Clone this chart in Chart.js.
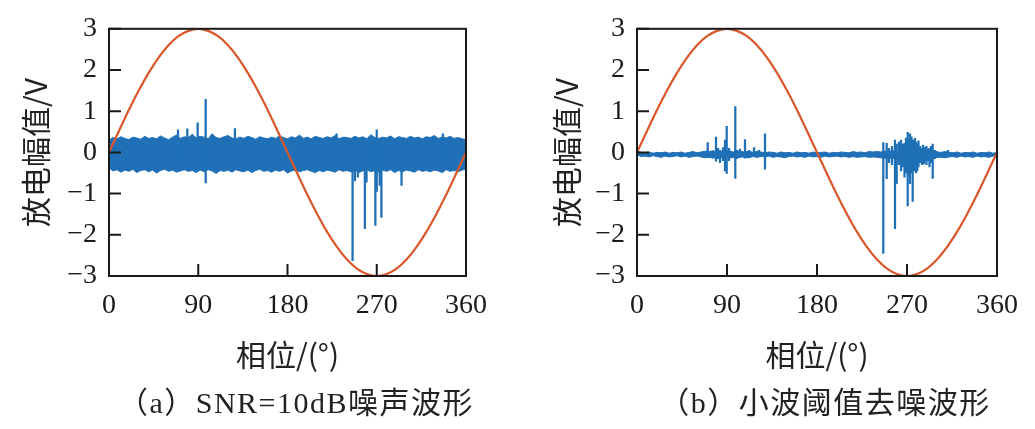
<!DOCTYPE html>
<html>
<head>
<meta charset="utf-8">
<script src="https://cdn.jsdelivr.net/npm/chart.js@4"></script>
<style>
  html, body { margin: 0; padding: 0; background: #fff; }
  #wrap { position: relative; width: 1035px; height: 429px; overflow: hidden; }
  canvas { position: absolute; top: 0; }
  #cv-a { left: 0; }
  #cv-b { left: 518px; }
  .caption {
    position: absolute; top: 378px; width: 460px; text-align: center;
    font: 30px "Liberation Serif", "Noto Sans CJK SC", serif; color: #222;
    letter-spacing: 1.5px; white-space: nowrap;
  }
</style>
</head>
<body>
<div id="wrap">
  <canvas id="cv-a" width="518" height="380"></canvas>
  <canvas id="cv-b" width="517" height="380"></canvas>
  <div class="caption" style="left:66px">（a）SNR=10dB噪声波形</div>
  <div class="caption" style="left:595px">（b）小波阈值去噪波形</div>
</div>
<script>
// ── data ──

const X_TICKS = [0, 90, 180, 270, 360];
const Y_TICKS = [-3, -2, -1, 0, 1, 2, 3];

// reference sine, 10° steps
const SINE_PHASE = [0, 10, 20, 30, 40, 50, 60, 70, 80, 90, 100, 110, 120, 130, 140, 150, 160, 170, 180,
  190, 200, 210, 220, 230, 240, 250, 260, 270, 280, 290, 300, 310, 320, 330, 340, 350, 360];
const SINE = [0, 0.52, 1.03, 1.5, 1.93, 2.3, 2.6, 2.82, 2.95, 3, 2.95, 2.82, 2.6, 2.3, 1.93, 1.5, 1.03, 0.52, 0,
  -0.52, -1.03, -1.5, -1.93, -2.3, -2.6, -2.82, -2.95, -3, -2.95, -2.82, -2.6, -2.3, -1.93, -1.5, -1.03, -0.52, 0];

// noise band envelopes, 4° steps
const PHASE = [0, 4, 8, 12, 16, 20, 24, 28, 32, 36, 40, 44, 48, 52, 56, 60, 64, 68, 72, 76,
  80, 84, 88, 92, 96, 100, 104, 108, 112, 116, 120, 124, 128, 132, 136, 140, 144, 148, 152, 156,
  160, 164, 168, 172, 176, 180, 184, 188, 192, 196, 200, 204, 208, 212, 216, 220, 224, 228, 232, 236,
  240, 244, 248, 252, 256, 260, 264, 268, 272, 276, 280, 284, 288, 292, 296, 300, 304, 308, 312, 316,
  320, 324, 328, 332, 336, 340, 344, 348, 352, 356, 360];

const UPPER_A = [0.30, 0.36, 0.33, 0.38, 0.34, 0.31, 0.37, 0.35, 0.32, 0.39,
  0.34, 0.36, 0.33, 0.40, 0.35, 0.31, 0.37, 0.42, 0.34, 0.38,
  0.36, 0.44, 0.35, 0.39, 0.37, 0.33, 0.45, 0.36, 0.34, 0.38,
  0.41, 0.35, 0.33, 0.37, 0.34, 0.39, 0.36, 0.32, 0.38, 0.35,
  0.33, 0.37, 0.34, 0.40, 0.36, 0.33, 0.38, 0.35, 0.42, 0.34,
  0.37, 0.33, 0.39, 0.36, 0.34, 0.38, 0.35, 0.41, 0.33, 0.37,
  0.36, 0.34, 0.39, 0.35, 0.38, 0.33, 0.43, 0.36, 0.34, 0.37,
  0.35, 0.40, 0.33, 0.38, 0.36, 0.34, 0.39, 0.35, 0.37, 0.33,
  0.38, 0.36, 0.41, 0.34, 0.37, 0.35, 0.39, 0.34, 0.36, 0.33, 0.31];
const LOWER_A = [-0.38, -0.45, -0.42, -0.48, -0.43, -0.46, -0.41, -0.49, -0.44, -0.42,
  -0.47, -0.43, -0.50, -0.44, -0.41, -0.46, -0.43, -0.48, -0.45, -0.42,
  -0.46, -0.44, -0.49, -0.43, -0.47, -0.42, -0.45, -0.51, -0.44, -0.46,
  -0.43, -0.48, -0.42, -0.45, -0.47, -0.43, -0.49, -0.44, -0.41, -0.46,
  -0.44, -0.48, -0.43, -0.46, -0.42, -0.50, -0.45, -0.43, -0.47, -0.44,
  -0.42, -0.46, -0.49, -0.44, -0.47, -0.43, -0.45, -0.48, -0.42, -0.46,
  -0.44, -0.47, -0.43, -0.49, -0.45, -0.42, -0.47, -0.44, -0.48, -0.43,
  -0.46, -0.42, -0.49, -0.44, -0.47, -0.43, -0.45, -0.48, -0.42, -0.46,
  -0.44, -0.47, -0.43, -0.45, -0.49, -0.42, -0.46, -0.44, -0.47, -0.43, -0.40];

const UPPER_B = [0.03, 0.00, -0.01, 0.01, -0.02, 0.00, -0.01, 0.01, -0.02, 0.00,
  -0.01, 0.01, -0.02, 0.00, 0.02, -0.01, 0.01, 0.03, 0.02, 0.04,
  0.01, 0.03, 0.02, 0.04, 0.01, 0.03, 0.02, 0.01, 0.03, 0.00,
  0.02, 0.01, -0.01, 0.01, 0.00, -0.02, 0.01, -0.01, 0.00, -0.02,
  0.01, -0.01, 0.00, -0.02, 0.01, -0.01, 0.00, 0.01, -0.02, 0.00,
  -0.01, 0.01, 0.00, -0.01, 0.02, 0.00, 0.01, -0.01, 0.02, 0.01,
  0.02, 0.01, 0.03, 0.02, 0.04, 0.03, 0.04, 0.05, 0.04, 0.05,
  0.04, 0.03, 0.04, 0.02, 0.03, 0.01, 0.00, 0.02, 0.00, -0.01,
  0.01, -0.02, 0.00, -0.01, 0.01, -0.02, 0.00, -0.01, 0.01, -0.02, 0.00];
const LOWER_B = [-0.06, -0.10, -0.09, -0.11, -0.08, -0.10, -0.12, -0.09, -0.11, -0.10,
  -0.08, -0.11, -0.09, -0.12, -0.10, -0.09, -0.11, -0.13, -0.12, -0.14,
  -0.11, -0.13, -0.12, -0.14, -0.12, -0.13, -0.11, -0.12, -0.13, -0.10,
  -0.12, -0.10, -0.11, -0.09, -0.12, -0.10, -0.11, -0.13, -0.10, -0.09,
  -0.11, -0.10, -0.12, -0.09, -0.11, -0.10, -0.12, -0.09, -0.11, -0.10,
  -0.09, -0.11, -0.10, -0.12, -0.10, -0.12, -0.11, -0.10, -0.12, -0.11,
  -0.12, -0.13, -0.14, -0.13, -0.15, -0.14, -0.16, -0.15, -0.16, -0.15,
  -0.16, -0.14, -0.15, -0.13, -0.14, -0.12, -0.12, -0.13, -0.11, -0.10,
  -0.12, -0.09, -0.11, -0.10, -0.12, -0.09, -0.11, -0.10, -0.12, -0.09, -0.07];

// discharge pulses: phase, min, max
const SPIKE_A_X = [69.6, 79, 89.4, 97.5, 127, 229.5, 245.6, 248, 251, 258, 259.7, 268.6, 270, 273, 274.7, 295, 336.7];
const SPIKE_A_LO = [-0.3, -0.3, -0.3, -0.74, -0.3, -0.3, -2.63, -0.69, -0.6, -1.85, -0.72, -1.77, -0.95, -0.8, -1.58, -0.8, -0.3];
const SPIKE_A_HI = [0.55, 0.57, 0.72, 1.29, 0.58, 0.45, 0.3, 0.3, 0.3, 0.3, 0.3, 0.3, 0.55, 0.3, 0.3, 0.3, 0.45];

const SPIKE_B_X = [70.7, 79, 81, 83, 86, 88, 89.7, 92, 98.3, 100, 103, 108, 112, 117, 122, 128,
  246.3, 249.7, 252, 255, 258, 259.7, 262, 264, 266, 267.5, 269, 270.7, 272, 273, 274.5, 275.7,
  277, 278, 279, 280.3, 281.5, 283, 285, 286, 287, 288, 289.5, 291, 292.5, 294, 295.7, 298, 300, 311];
const SPIKE_B_LO = [-0.1, -0.21, -0.15, -0.25, -0.2, -0.45, -0.51, -0.2, -0.63, -0.15, -0.12, -0.14, -0.12, -0.1, -0.1, -0.41,
  -2.45, -0.64, -0.25, -0.3, -1.85, -0.76, -0.3, -0.45, -0.35, -0.6, -0.5, -1.3, -0.55, -0.76, -0.5, -1.19,
  -0.45, -0.3, -0.5, -0.45, -0.35, -0.25, -0.3, -0.2, -0.28, -0.22, -0.3, -0.2, -0.35, -0.25, -0.63, -0.15, -0.12, -0.1];
const SPIKE_B_HI = [0.24, 0.37, 0.1, 0.05, 0.12, 0.3, 0.63, 0.1, 1.11, 0.05, 0.08, 0.31, 0.05, 0.12, 0.05, 0.45,
  0.24, 0.22, 0.1, 0.15, 0.3, 0.2, 0.25, 0.3, 0.2, 0.22, 0.35, 0.49, 0.3, 0.45, 0.38, 0.3,
  0.3, 0.34, 0.25, 0.2, 0.28, 0.15, 0.1, 0.18, 0.12, 0.12, 0.15, 0.08, 0.1, 0.15, 0.2, 0.05, 0.02, 0.05];

// ── styling ──

const BLUE = "#1f70b6";
const RED = "#d9572b";
const INK = "#1a1a1a";

Chart.defaults.font.family = "'Liberation Serif', serif";
Chart.defaults.color = INK;

const xy = (xs, ys) => xs.map((x, i) => ({ x, y: ys[i] }));
const fmtTick = (v) => (v < 0 ? "\u2212" + Math.abs(v) : String(v));

// frame box + inward tick marks
const framePlugin = {
  id: "frame",
  afterDatasetsDraw(chart) {
    const { ctx, chartArea: a, scales } = chart;
    ctx.save();
    ctx.strokeStyle = INK;
    ctx.lineWidth = 2;
    ctx.beginPath();
    for (const v of X_TICKS) {
      const px = scales.x.getPixelForValue(v);
      ctx.moveTo(px, a.bottom);
      ctx.lineTo(px, a.bottom - 12);
    }
    for (const v of Y_TICKS) {
      const py = scales.y.getPixelForValue(v);
      ctx.moveTo(a.left, py);
      ctx.lineTo(a.left + 12, py);
    }
    ctx.stroke();
    ctx.strokeRect(a.left, a.top, a.width, a.height);
    ctx.restore();
  },
};

const TITLE_FONT = { family: "'Noto Sans CJK SC', sans-serif", size: 30 };

function makeChart(id, upper, lower, spX, spLo, spHi, yWidth, padRight, yTitlePad) {
  return new Chart(document.getElementById(id), {
    type: "line",
    data: {
      datasets: [
        {
          data: xy(SINE_PHASE, SINE),
          borderColor: RED,
          borderWidth: 2.2,
          pointRadius: 0,
          cubicInterpolationMode: "monotone",
          order: 0,
        },
        {
          type: "bar",
          data: spX.map((x, i) => ({ x, y: [spLo[i], spHi[i]] })),
          backgroundColor: BLUE,
          borderWidth: 0,
          barThickness: 1.6,
          order: 1,
        },
        {
          data: xy(PHASE, upper),
          borderColor: BLUE,
          borderWidth: 1,
          pointRadius: 0,
          fill: false,
          order: 2,
        },
        {
          data: xy(PHASE, lower),
          borderColor: BLUE,
          backgroundColor: BLUE,
          borderWidth: 1,
          pointRadius: 0,
          fill: "-1",
          order: 2,
        },
      ],
    },
    options: {
      responsive: false,
      animation: false,
      layout: { padding: { left: 0, right: padRight, top: 19, bottom: 0 } },
      plugins: { legend: { display: false }, tooltip: { enabled: false } },
      scales: {
        x: {
          type: "linear",
          min: 0,
          max: 360,
          offset: false,
          afterBuildTicks: (s) => { s.ticks = X_TICKS.map((value) => ({ value })); },
          ticks: { font: { size: 28 }, padding: 13, maxRotation: 0 },
          grid: { display: false, drawTicks: false },
          border: { display: false },
          title: {
            display: true,
            text: "相位/(°)",
            font: TITLE_FONT,
            color: "#222",
            padding: { top: 0, bottom: 7 },
          },
          afterFit: (s) => { s.height = 104; },
        },
        y: {
          min: -3,
          max: 3,
          afterBuildTicks: (s) => { s.ticks = Y_TICKS.map((value) => ({ value })); },
          ticks: { font: { size: 28 }, padding: 12, callback: fmtTick },
          grid: { display: false, drawTicks: false },
          border: { display: false },
          title: {
            display: true,
            text: "放电幅值/V",
            font: TITLE_FONT,
            color: "#222",
            padding: { top: yTitlePad, bottom: 0 },
          },
          afterFit: (s) => { s.width = yWidth; },
        },
      },
    },
    plugins: [framePlugin],
  });
}

makeChart("cv-a", UPPER_A, LOWER_A, SPIKE_A_X, SPIKE_A_LO, SPIKE_A_HI, 109, 52, 18);
makeChart("cv-b", UPPER_B, LOWER_B, SPIKE_B_X, SPIKE_B_LO, SPIKE_B_HI, 119, 38, 31);
</script>
</body>
</html>
